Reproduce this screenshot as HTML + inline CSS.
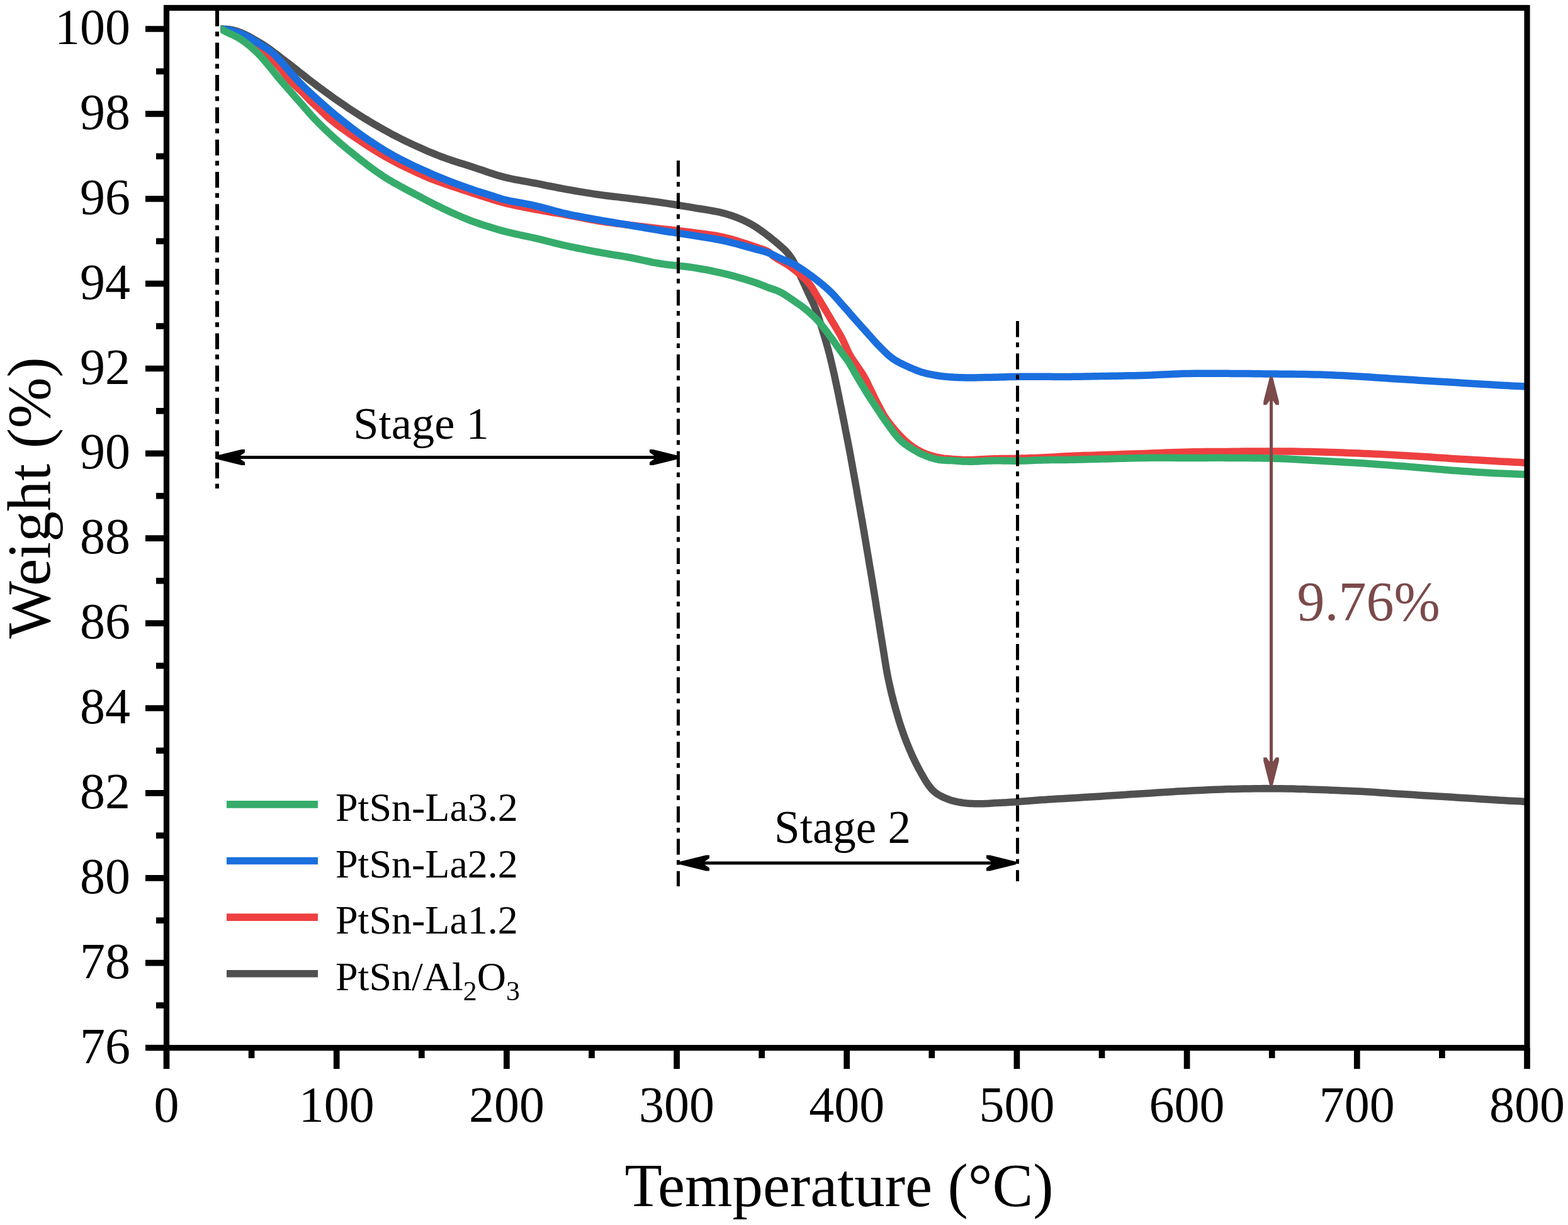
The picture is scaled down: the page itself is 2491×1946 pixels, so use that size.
<!DOCTYPE html>
<html><head><meta charset="utf-8"><title>TGA curves</title>
<style>html,body{margin:0;padding:0;background:#fff;}svg{display:block;}</style>
</head><body>
<svg width="2491" height="1946" viewBox="0 0 2491 1946">
<rect width="2491" height="1946" fill="#fff"/>
<defs><clipPath id="pc"><rect x="350.5" y="0" width="2075.5" height="1946"/></clipPath></defs>
<path d="M343.9 45.7 L344.7 45.7 L345.5 45.8 L346.3 45.8 L347.1 45.8 L347.9 45.9 L348.7 45.9 L349.6 46.0 L350.5 46.0 L351.7 46.0 L353.1 46.1 L354.4 46.1 L355.8 46.2 L357.3 46.2 L358.7 46.3 L360.1 46.4 L361.5 46.5 L362.9 46.7 L364.2 46.8 L365.5 47.0 L366.9 47.2 L368.2 47.4 L369.6 47.7 L371.0 48.0 L372.5 48.4 L374.4 49.0 L376.4 49.6 L378.5 50.3 L380.6 51.1 L382.7 51.9 L384.8 52.8 L386.9 53.7 L389.0 54.6 L391.1 55.6 L393.1 56.6 L395.2 57.7 L397.2 58.9 L399.3 60.0 L401.3 61.2 L403.4 62.4 L405.4 63.6 L407.5 64.8 L409.5 66.0 L411.5 67.1 L413.5 68.3 L415.6 69.6 L417.7 70.8 L419.8 72.2 L421.9 73.6 L424.5 75.4 L427.2 77.3 L430.0 79.3 L432.8 81.4 L435.6 83.5 L438.4 85.6 L441.2 87.7 L443.9 89.8 L446.5 91.8 L449.1 93.8 L451.7 95.7 L454.3 97.7 L456.8 99.7 L459.5 101.7 L462.2 103.8 L465.0 106.0 L468.5 108.8 L472.1 111.6 L475.8 114.6 L479.6 117.6 L483.5 120.6 L487.4 123.7 L491.4 126.9 L495.5 130.0 L500.3 133.6 L505.2 137.3 L510.3 141.1 L515.4 144.9 L520.6 148.7 L525.9 152.5 L531.2 156.3 L536.5 160.0 L542.0 163.8 L547.6 167.6 L553.2 171.4 L558.9 175.2 L564.6 178.9 L570.4 182.6 L576.3 186.3 L582.3 190.0 L588.7 193.9 L595.2 197.7 L601.8 201.5 L608.4 205.3 L615.2 209.1 L622.0 212.8 L629.0 216.4 L636.0 220.0 L643.7 223.8 L651.7 227.6 L659.8 231.4 L668.0 235.1 L676.2 238.7 L684.3 242.2 L692.3 245.4 L700.0 248.5 L706.5 250.9 L712.9 253.2 L719.1 255.3 L725.3 257.3 L731.5 259.2 L737.6 261.1 L743.8 263.0 L750.0 265.0 L756.2 267.1 L762.5 269.2 L768.7 271.3 L774.9 273.5 L781.2 275.5 L787.4 277.5 L793.7 279.4 L800.0 281.1 L806.2 282.6 L812.4 284.0 L818.7 285.3 L825.0 286.4 L831.2 287.6 L837.5 288.7 L843.7 289.8 L850.0 291.0 L856.2 292.2 L862.5 293.5 L868.7 294.8 L875.0 296.0 L881.2 297.2 L887.5 298.5 L893.7 299.7 L900.0 300.8 L906.2 301.9 L912.5 303.0 L918.7 304.1 L925.0 305.1 L931.2 306.1 L937.5 307.1 L943.7 308.1 L950.0 309.0 L956.2 309.9 L962.5 310.7 L968.7 311.5 L975.0 312.2 L981.2 312.9 L987.5 313.7 L993.7 314.4 L1000.0 315.2 L1006.3 316.0 L1012.5 316.8 L1018.8 317.6 L1025.0 318.3 L1031.3 319.1 L1037.5 320.0 L1043.8 320.8 L1050.0 321.7 L1056.3 322.6 L1062.5 323.6 L1068.8 324.5 L1075.0 325.5 L1081.3 326.6 L1087.5 327.6 L1093.8 328.6 L1100.0 329.7 L1106.3 330.8 L1112.8 331.8 L1119.4 332.8 L1125.9 333.9 L1132.2 335.0 L1138.5 336.2 L1144.4 337.4 L1150.0 338.8 L1154.2 340.0 L1158.3 341.2 L1162.2 342.5 L1166.0 343.8 L1169.6 345.2 L1173.2 346.6 L1176.6 348.0 L1180.0 349.5 L1182.7 350.7 L1185.4 352.0 L1187.9 353.3 L1190.4 354.6 L1192.8 355.9 L1195.2 357.3 L1197.6 358.7 L1200.0 360.2 L1202.5 361.8 L1205.0 363.5 L1207.5 365.2 L1210.0 367.0 L1212.5 368.8 L1215.0 370.7 L1217.4 372.5 L1219.9 374.4 L1222.5 376.4 L1225.1 378.5 L1227.7 380.6 L1230.3 382.7 L1232.9 384.9 L1235.3 386.9 L1237.7 388.9 L1239.8 390.8 L1241.2 392.1 L1242.6 393.3 L1243.9 394.4 L1245.1 395.5 L1246.3 396.6 L1247.5 397.8 L1248.6 399.0 L1249.8 400.3 L1251.1 401.8 L1252.4 403.4 L1253.7 405.0 L1254.9 406.7 L1256.2 408.4 L1257.4 410.2 L1258.6 412.0 L1259.8 414.0 L1261.3 416.6 L1262.8 419.4 L1264.2 422.4 L1265.7 425.5 L1267.1 428.5 L1268.5 431.5 L1269.8 434.4 L1271.0 437.0 L1271.8 438.8 L1272.6 440.4 L1273.3 442.0 L1274.1 443.6 L1274.8 445.1 L1275.5 446.6 L1276.2 448.3 L1277.0 450.0 L1278.1 452.3 L1279.2 454.7 L1280.3 457.3 L1281.5 459.8 L1282.7 462.4 L1283.8 464.9 L1284.9 467.3 L1286.0 469.6 L1286.8 471.3 L1287.6 472.9 L1288.3 474.4 L1289.1 475.9 L1289.8 477.4 L1290.6 478.9 L1291.3 480.4 L1292.0 482.0 L1292.8 483.8 L1293.5 485.6 L1294.3 487.4 L1295.0 489.2 L1295.8 491.1 L1296.5 493.0 L1297.3 495.0 L1298.0 497.0 L1298.9 499.5 L1299.7 502.1 L1300.6 504.7 L1301.5 507.5 L1302.3 510.2 L1303.2 513.1 L1304.1 516.0 L1305.0 519.0 L1306.1 522.7 L1307.3 526.6 L1308.6 530.7 L1309.8 534.8 L1311.0 538.9 L1312.2 543.0 L1313.4 547.1 L1314.5 551.0 L1315.5 554.5 L1316.4 558.0 L1317.3 561.4 L1318.2 564.8 L1319.0 568.2 L1319.8 571.6 L1320.7 575.1 L1321.5 578.5 L1322.3 582.0 L1323.1 585.5 L1323.9 589.0 L1324.7 592.5 L1325.5 596.0 L1326.3 599.6 L1327.0 603.1 L1327.8 606.6 L1328.5 610.1 L1329.3 613.6 L1330.0 617.1 L1330.7 620.6 L1331.5 624.2 L1332.2 627.7 L1332.9 631.2 L1333.6 634.7 L1334.3 638.2 L1335.0 641.7 L1335.8 645.2 L1336.5 648.7 L1337.2 652.3 L1337.9 655.8 L1338.6 659.3 L1339.3 662.8 L1340.0 666.3 L1340.7 669.8 L1341.4 673.4 L1342.1 676.9 L1342.7 680.4 L1343.4 683.9 L1344.1 687.5 L1344.8 691.0 L1345.5 694.6 L1346.2 698.1 L1346.9 701.6 L1347.6 705.2 L1348.3 708.8 L1349.0 712.4 L1349.7 716.2 L1350.4 720.0 L1351.3 724.6 L1352.1 729.4 L1353.0 734.3 L1353.9 739.3 L1354.8 744.3 L1355.7 749.3 L1356.6 754.3 L1357.5 759.3 L1358.4 764.3 L1359.3 769.3 L1360.2 774.2 L1361.1 779.2 L1361.9 784.2 L1362.8 789.2 L1363.7 794.2 L1364.6 799.2 L1365.5 804.2 L1366.4 809.1 L1367.2 814.1 L1368.1 819.1 L1369.0 824.0 L1369.9 829.0 L1370.7 834.0 L1371.6 839.0 L1372.5 844.1 L1373.3 849.1 L1374.2 854.2 L1375.0 859.2 L1375.9 864.3 L1376.7 869.5 L1377.6 874.7 L1378.5 880.0 L1379.5 885.9 L1380.5 892.0 L1381.5 898.1 L1382.6 904.3 L1383.6 910.5 L1384.7 916.8 L1385.7 923.0 L1386.7 929.2 L1387.7 935.4 L1388.7 941.5 L1389.7 947.7 L1390.7 953.8 L1391.7 960.0 L1392.6 966.2 L1393.6 972.3 L1394.6 978.5 L1395.6 984.7 L1396.6 990.8 L1397.5 997.0 L1398.5 1003.1 L1399.5 1009.3 L1400.5 1015.4 L1401.5 1021.6 L1402.5 1027.7 L1403.5 1033.9 L1404.5 1040.0 L1405.4 1046.2 L1406.4 1052.3 L1407.4 1058.5 L1408.5 1064.6 L1409.6 1070.8 L1410.8 1076.9 L1412.1 1083.1 L1413.5 1089.3 L1414.9 1095.4 L1416.3 1101.6 L1417.9 1107.8 L1419.4 1113.9 L1421.1 1120.1 L1422.8 1126.2 L1424.6 1132.4 L1426.4 1138.6 L1428.2 1144.7 L1430.2 1150.9 L1432.2 1157.1 L1434.3 1163.2 L1436.5 1169.3 L1438.8 1175.4 L1441.3 1181.7 L1443.9 1188.1 L1446.7 1194.5 L1449.5 1200.8 L1452.4 1207.1 L1455.4 1213.2 L1458.4 1219.0 L1461.4 1224.6 L1463.9 1229.1 L1466.5 1233.6 L1469.0 1238.0 L1471.6 1242.2 L1474.3 1246.3 L1477.1 1250.0 L1480.0 1253.5 L1483.1 1256.6 L1485.9 1259.0 L1488.8 1261.1 L1491.9 1263.0 L1495.0 1264.7 L1498.1 1266.2 L1501.3 1267.7 L1504.5 1269.0 L1507.7 1270.2 L1510.7 1271.3 L1513.8 1272.2 L1516.8 1272.9 L1519.9 1273.6 L1523.0 1274.2 L1526.1 1274.7 L1529.2 1275.2 L1532.3 1275.6 L1535.4 1276.0 L1538.4 1276.2 L1541.5 1276.5 L1544.6 1276.6 L1547.7 1276.7 L1550.7 1276.8 L1553.8 1276.8 L1556.9 1276.8 L1560.0 1276.8 L1563.0 1276.7 L1566.1 1276.5 L1569.2 1276.4 L1572.3 1276.2 L1575.3 1276.0 L1578.4 1275.8 L1581.5 1275.6 L1584.5 1275.4 L1587.5 1275.3 L1590.4 1275.2 L1593.3 1275.0 L1596.3 1274.9 L1599.4 1274.7 L1602.7 1274.5 L1606.2 1274.3 L1611.7 1273.9 L1617.7 1273.5 L1624.2 1273.0 L1630.8 1272.5 L1637.4 1271.9 L1643.9 1271.4 L1649.9 1271.0 L1655.4 1270.6 L1658.8 1270.4 L1661.8 1270.2 L1664.7 1270.0 L1667.4 1269.8 L1670.2 1269.7 L1673.2 1269.5 L1676.4 1269.3 L1680.0 1269.1 L1687.0 1268.7 L1694.9 1268.2 L1703.5 1267.7 L1712.6 1267.2 L1721.9 1266.6 L1731.4 1266.0 L1740.7 1265.5 L1749.6 1264.9 L1758.3 1264.3 L1767.0 1263.8 L1775.7 1263.2 L1784.4 1262.7 L1793.1 1262.1 L1801.8 1261.5 L1810.5 1261.0 L1819.2 1260.4 L1827.9 1259.9 L1836.6 1259.3 L1845.3 1258.7 L1854.0 1258.2 L1862.7 1257.7 L1871.4 1257.1 L1880.1 1256.7 L1888.8 1256.2 L1897.5 1255.8 L1906.2 1255.4 L1914.9 1255.0 L1923.6 1254.6 L1932.3 1254.2 L1941.0 1253.9 L1949.7 1253.6 L1958.4 1253.4 L1967.1 1253.2 L1975.8 1253.0 L1984.5 1252.9 L1993.2 1252.8 L2001.9 1252.7 L2010.6 1252.6 L2019.3 1252.7 L2028.0 1252.7 L2036.7 1252.8 L2045.4 1252.9 L2054.1 1253.1 L2062.8 1253.4 L2071.4 1253.6 L2080.1 1253.9 L2088.8 1254.2 L2097.5 1254.5 L2106.2 1254.8 L2114.9 1255.2 L2123.6 1255.5 L2132.3 1255.9 L2141.0 1256.3 L2149.7 1256.7 L2158.4 1257.1 L2167.1 1257.6 L2175.8 1258.1 L2184.5 1258.6 L2193.2 1259.2 L2201.9 1259.8 L2210.6 1260.4 L2219.3 1261.0 L2228.0 1261.5 L2236.7 1262.1 L2245.4 1262.6 L2254.1 1263.2 L2262.8 1263.7 L2271.5 1264.2 L2280.2 1264.7 L2288.9 1265.2 L2297.6 1265.8 L2306.3 1266.3 L2315.1 1266.9 L2324.0 1267.4 L2332.9 1268.0 L2341.8 1268.6 L2350.6 1269.2 L2359.3 1269.8 L2367.7 1270.3 L2375.9 1270.8 L2382.6 1271.2 L2389.0 1271.5 L2395.3 1271.9 L2401.5 1272.2 L2407.6 1272.5 L2413.7 1272.8 L2419.8 1273.2 L2426.0 1273.5" fill="none" stroke="#505050" stroke-width="11.5" stroke-linejoin="round" stroke-linecap="butt" clip-path="url(#pc)"/>
<path d="M338.8 43.0 L340.2 43.4 L341.7 43.7 L343.1 44.1 L344.5 44.5 L345.9 44.8 L347.4 45.2 L348.9 45.6 L350.5 46.0 L352.7 46.5 L355.0 47.1 L357.5 47.6 L360.0 48.2 L362.5 48.8 L365.0 49.5 L367.5 50.2 L370.0 51.0 L372.5 51.9 L375.0 52.9 L377.6 53.9 L380.1 55.0 L382.6 56.2 L385.1 57.4 L387.6 58.6 L390.0 60.0 L392.6 61.5 L395.1 63.1 L397.6 64.8 L400.1 66.5 L402.6 68.3 L405.1 70.2 L407.6 72.1 L410.0 74.0 L412.6 76.1 L415.2 78.3 L417.7 80.5 L420.3 82.8 L422.8 85.1 L425.3 87.4 L427.7 89.7 L430.0 92.0 L432.0 94.0 L434.0 96.0 L435.9 97.9 L437.8 99.9 L439.6 101.9 L441.4 103.9 L443.2 105.9 L445.0 108.0 L446.8 110.2 L448.5 112.4 L450.1 114.6 L451.8 116.8 L453.4 119.1 L455.2 121.4 L457.0 123.7 L459.0 126.0 L461.7 128.9 L464.7 131.9 L467.9 135.0 L471.1 138.1 L474.4 141.2 L477.5 144.1 L480.4 146.9 L483.0 149.5 L484.6 151.1 L486.1 152.7 L487.4 154.1 L488.8 155.6 L490.0 156.9 L491.3 158.3 L492.6 159.6 L494.0 161.0 L495.3 162.3 L496.6 163.5 L498.0 164.7 L499.3 165.9 L500.6 167.1 L502.0 168.3 L503.5 169.6 L505.0 171.0 L507.2 173.1 L509.4 175.3 L511.8 177.6 L514.2 179.9 L516.7 182.4 L519.4 184.9 L522.2 187.5 L525.2 190.0 L529.6 193.5 L534.3 197.2 L539.3 201.0 L544.6 204.8 L550.0 208.6 L555.5 212.5 L561.0 216.3 L566.5 220.0 L572.2 223.8 L577.9 227.7 L583.7 231.5 L589.5 235.3 L595.4 239.0 L601.5 242.7 L607.7 246.4 L614.0 250.0 L621.4 254.0 L629.2 258.1 L637.3 262.3 L645.6 266.3 L653.6 270.2 L661.4 273.8 L668.6 277.1 L675.0 280.0 L678.6 281.5 L681.8 282.9 L684.7 284.1 L687.6 285.2 L690.4 286.2 L693.4 287.3 L696.5 288.4 L700.0 289.7 L705.4 291.6 L711.3 293.7 L717.5 295.8 L723.9 297.9 L730.5 300.1 L737.1 302.3 L743.6 304.4 L750.0 306.5 L756.2 308.5 L762.5 310.6 L768.7 312.6 L774.9 314.6 L781.2 316.6 L787.5 318.5 L793.7 320.3 L800.0 322.0 L806.2 323.6 L812.5 325.0 L818.7 326.4 L825.0 327.7 L831.2 328.9 L837.5 330.1 L843.7 331.3 L850.0 332.5 L856.2 333.7 L862.5 334.8 L868.7 335.9 L875.0 337.0 L881.2 338.0 L887.5 339.1 L893.8 340.2 L900.0 341.3 L906.3 342.5 L912.5 343.7 L918.7 344.9 L925.0 346.2 L931.2 347.4 L937.5 348.6 L943.7 349.7 L950.0 350.8 L956.2 351.8 L962.5 352.7 L968.7 353.5 L975.0 354.4 L981.2 355.2 L987.5 355.9 L993.7 356.7 L1000.0 357.5 L1006.2 358.3 L1012.5 359.0 L1018.7 359.8 L1025.0 360.5 L1031.2 361.2 L1037.5 361.9 L1043.7 362.7 L1050.0 363.4 L1056.3 364.1 L1062.5 364.8 L1068.8 365.5 L1075.0 366.2 L1081.3 367.0 L1087.5 367.7 L1093.8 368.5 L1100.0 369.3 L1106.3 370.1 L1112.5 370.9 L1118.8 371.7 L1125.1 372.6 L1131.3 373.5 L1137.6 374.5 L1143.8 375.7 L1150.0 377.0 L1156.4 378.6 L1163.1 380.4 L1169.8 382.3 L1176.5 384.4 L1183.0 386.5 L1189.1 388.5 L1194.9 390.5 L1200.0 392.2 L1203.0 393.2 L1205.8 394.1 L1208.5 395.0 L1211.0 395.8 L1213.4 396.6 L1215.7 397.5 L1217.9 398.5 L1219.9 399.6 L1221.4 400.5 L1222.6 401.5 L1223.8 402.5 L1224.9 403.5 L1226.1 404.6 L1227.2 405.7 L1228.5 406.7 L1229.9 407.8 L1232.1 409.2 L1234.4 410.7 L1237.0 412.2 L1239.6 413.7 L1242.3 415.2 L1244.9 416.7 L1247.4 418.2 L1249.8 419.7 L1251.8 421.0 L1253.7 422.3 L1255.5 423.6 L1257.3 424.9 L1259.1 426.3 L1260.9 427.7 L1262.8 429.1 L1264.7 430.7 L1267.1 432.8 L1269.7 434.9 L1272.3 437.2 L1275.0 439.6 L1277.6 442.0 L1280.1 444.5 L1282.5 447.1 L1284.7 449.6 L1286.6 452.0 L1288.3 454.4 L1290.0 456.9 L1291.5 459.4 L1293.1 462.0 L1294.6 464.5 L1296.1 467.1 L1297.6 469.6 L1299.1 472.1 L1300.6 474.5 L1302.1 477.0 L1303.6 479.5 L1305.1 482.0 L1306.6 484.5 L1308.1 487.0 L1309.6 489.5 L1311.2 492.1 L1312.7 494.8 L1314.3 497.4 L1315.9 500.1 L1317.5 502.8 L1319.1 505.5 L1320.7 508.2 L1322.3 511.0 L1324.1 514.0 L1326.0 517.1 L1327.8 520.2 L1329.7 523.4 L1331.6 526.6 L1333.5 529.8 L1335.3 533.0 L1337.1 536.3 L1338.8 539.7 L1340.5 543.2 L1342.0 546.6 L1343.6 550.2 L1345.2 553.7 L1346.8 557.3 L1348.6 560.8 L1350.5 564.4 L1352.9 568.5 L1355.6 572.6 L1358.5 576.8 L1361.4 581.0 L1364.3 585.2 L1367.2 589.3 L1369.8 593.3 L1372.2 597.2 L1373.9 600.3 L1375.5 603.3 L1377.0 606.2 L1378.4 609.1 L1379.8 612.0 L1381.2 614.9 L1382.6 617.8 L1384.0 620.7 L1385.5 623.6 L1386.9 626.6 L1388.3 629.5 L1389.7 632.4 L1391.2 635.4 L1392.6 638.3 L1394.2 641.2 L1395.7 644.1 L1397.3 647.0 L1398.8 649.9 L1400.4 652.8 L1402.0 655.7 L1403.6 658.6 L1405.4 661.6 L1407.4 664.5 L1409.5 667.6 L1412.6 671.8 L1416.1 676.3 L1419.9 680.9 L1423.8 685.5 L1427.9 690.0 L1432.0 694.4 L1436.1 698.4 L1440.0 702.0 L1443.1 704.6 L1446.2 707.0 L1449.3 709.3 L1452.4 711.4 L1455.5 713.4 L1458.6 715.2 L1461.8 716.9 L1465.0 718.5 L1468.0 719.9 L1471.1 721.1 L1474.2 722.2 L1477.4 723.3 L1480.5 724.2 L1483.7 725.0 L1486.8 725.8 L1490.0 726.5 L1493.1 727.1 L1496.2 727.6 L1499.3 728.1 L1502.5 728.4 L1505.6 728.7 L1508.7 729.0 L1511.9 729.3 L1515.0 729.5 L1518.1 729.7 L1521.1 729.9 L1524.1 730.1 L1527.1 730.3 L1530.2 730.4 L1533.4 730.4 L1536.6 730.5 L1540.0 730.5 L1544.5 730.4 L1549.1 730.3 L1554.0 730.1 L1558.9 729.8 L1564.0 729.5 L1569.0 729.2 L1574.0 729.0 L1579.0 728.8 L1584.0 728.7 L1588.9 728.6 L1593.9 728.5 L1598.9 728.5 L1603.9 728.4 L1608.9 728.4 L1613.9 728.3 L1618.9 728.2 L1623.9 728.1 L1628.8 727.9 L1633.8 727.8 L1638.8 727.6 L1643.7 727.4 L1648.7 727.2 L1653.7 727.0 L1658.7 726.8 L1663.8 726.5 L1668.9 726.3 L1674.0 726.0 L1679.1 725.7 L1684.2 725.3 L1689.4 725.0 L1694.7 724.8 L1700.0 724.5 L1705.9 724.2 L1711.9 724.0 L1717.9 723.8 L1724.0 723.6 L1730.2 723.4 L1736.5 723.2 L1743.0 723.0 L1749.6 722.8 L1757.7 722.5 L1766.2 722.2 L1774.8 721.9 L1783.7 721.6 L1792.6 721.3 L1801.5 721.0 L1810.4 720.7 L1819.2 720.4 L1827.9 720.1 L1836.6 719.8 L1845.3 719.4 L1854.0 719.1 L1862.7 718.8 L1871.4 718.5 L1880.1 718.2 L1888.8 718.0 L1897.5 717.8 L1906.2 717.7 L1914.9 717.6 L1923.6 717.5 L1932.3 717.5 L1941.0 717.4 L1949.7 717.4 L1958.4 717.3 L1967.1 717.2 L1975.8 717.1 L1984.5 717.1 L1993.2 717.0 L2001.9 716.9 L2010.6 716.9 L2019.3 716.9 L2028.0 716.9 L2036.7 717.0 L2045.4 717.0 L2054.1 717.1 L2062.8 717.3 L2071.4 717.4 L2080.1 717.6 L2088.8 717.8 L2097.5 718.0 L2106.2 718.2 L2114.9 718.5 L2123.6 718.8 L2132.3 719.1 L2141.0 719.4 L2149.7 719.7 L2158.4 720.0 L2167.1 720.4 L2175.8 720.8 L2184.5 721.2 L2193.2 721.6 L2201.9 722.0 L2210.6 722.5 L2219.3 722.9 L2228.0 723.4 L2236.7 723.9 L2245.4 724.4 L2254.1 725.0 L2262.8 725.5 L2271.5 726.1 L2280.2 726.7 L2288.9 727.3 L2297.6 727.8 L2306.3 728.4 L2315.1 728.9 L2324.0 729.5 L2332.9 730.1 L2341.8 730.6 L2350.6 731.1 L2359.3 731.6 L2367.7 732.1 L2375.9 732.6 L2382.6 733.0 L2389.0 733.3 L2395.3 733.6 L2401.5 734.0 L2407.6 734.3 L2413.7 734.6 L2419.8 734.9 L2426.0 735.2" fill="none" stroke="#ee4040" stroke-width="11.5" stroke-linejoin="round" stroke-linecap="butt" clip-path="url(#pc)"/>
<path d="M340.6 44.6 L341.8 44.7 L343.0 44.9 L344.2 45.1 L345.4 45.3 L346.6 45.4 L347.8 45.6 L349.1 45.8 L350.5 46.0 L352.3 46.2 L354.3 46.5 L356.3 46.7 L358.4 46.9 L360.5 47.2 L362.6 47.5 L364.8 47.9 L367.0 48.4 L369.6 49.1 L372.3 49.9 L375.1 50.8 L377.9 51.7 L380.7 52.8 L383.5 53.9 L386.3 55.1 L389.0 56.3 L391.8 57.7 L394.6 59.1 L397.3 60.6 L400.0 62.2 L402.8 63.9 L405.5 65.6 L408.2 67.3 L410.9 69.0 L413.7 70.7 L416.4 72.4 L419.1 74.1 L421.8 75.8 L424.5 77.7 L427.3 79.6 L430.1 81.7 L432.9 84.1 L436.9 87.8 L441.1 92.1 L445.5 96.8 L449.9 101.7 L454.2 106.6 L458.2 111.3 L461.8 115.5 L465.0 119.0 L466.5 120.6 L467.7 122.1 L468.9 123.4 L469.9 124.6 L471.0 125.8 L472.1 127.1 L473.4 128.4 L474.9 130.0 L478.0 133.1 L481.5 136.5 L485.3 140.3 L489.4 144.2 L493.7 148.2 L498.1 152.2 L502.4 156.2 L506.6 160.0 L510.9 163.8 L515.1 167.6 L519.5 171.4 L523.8 175.1 L528.3 178.9 L532.7 182.6 L537.2 186.3 L541.8 190.0 L546.6 193.8 L551.4 197.6 L556.3 201.4 L561.2 205.2 L566.3 208.9 L571.3 212.7 L576.5 216.3 L581.8 220.0 L587.5 223.9 L593.4 227.7 L599.3 231.5 L605.3 235.3 L611.4 239.1 L617.7 242.8 L624.1 246.4 L630.6 250.0 L638.1 254.0 L646.0 257.9 L654.1 261.9 L662.3 265.7 L670.5 269.5 L678.7 273.1 L686.8 276.7 L694.6 280.0 L701.5 282.9 L708.4 285.6 L715.2 288.3 L722.0 290.9 L728.6 293.4 L735.1 295.7 L741.3 297.9 L747.2 300.0 L751.5 301.5 L755.7 302.9 L759.8 304.2 L763.8 305.4 L767.6 306.6 L771.4 307.7 L775.0 308.9 L778.6 310.0 L781.4 310.9 L784.0 311.8 L786.5 312.7 L789.0 313.5 L791.5 314.3 L794.1 315.1 L796.9 316.0 L800.0 316.8 L805.2 318.0 L811.0 319.3 L817.2 320.4 L823.7 321.6 L830.3 322.9 L837.0 324.1 L843.6 325.4 L850.0 326.8 L856.3 328.3 L862.5 329.9 L868.8 331.6 L875.0 333.3 L881.2 335.0 L887.5 336.6 L893.7 338.2 L900.0 339.7 L906.2 341.1 L912.5 342.3 L918.7 343.5 L925.0 344.7 L931.2 345.9 L937.5 347.0 L943.7 348.1 L950.0 349.2 L956.2 350.3 L962.5 351.4 L968.7 352.5 L975.0 353.5 L981.2 354.6 L987.5 355.6 L993.7 356.6 L1000.0 357.7 L1006.2 358.8 L1012.5 359.8 L1018.7 360.9 L1025.0 362.0 L1031.2 363.1 L1037.5 364.1 L1043.7 365.2 L1050.0 366.2 L1056.2 367.2 L1062.5 368.2 L1068.7 369.1 L1075.0 370.0 L1081.3 371.0 L1087.5 371.9 L1093.8 372.9 L1100.0 373.9 L1106.3 374.9 L1112.5 375.9 L1118.8 376.9 L1125.0 377.9 L1131.3 378.9 L1137.5 380.0 L1143.8 381.2 L1150.0 382.5 L1156.4 384.0 L1163.1 385.6 L1169.8 387.3 L1176.4 389.1 L1182.9 390.9 L1189.1 392.6 L1194.8 394.2 L1200.0 395.6 L1202.9 396.4 L1205.6 397.1 L1208.2 397.7 L1210.6 398.4 L1212.9 399.0 L1215.2 399.7 L1217.5 400.4 L1219.9 401.3 L1222.4 402.3 L1224.9 403.4 L1227.3 404.5 L1229.8 405.7 L1232.2 406.9 L1234.7 408.2 L1237.1 409.4 L1239.6 410.5 L1242.1 411.6 L1244.6 412.6 L1247.2 413.7 L1249.7 414.7 L1252.3 415.7 L1254.8 416.8 L1257.3 418.0 L1259.8 419.2 L1262.3 420.6 L1264.8 422.0 L1267.3 423.5 L1269.7 425.1 L1272.2 426.7 L1274.6 428.3 L1277.1 429.9 L1279.5 431.6 L1282.0 433.3 L1284.5 435.1 L1287.0 436.9 L1289.5 438.7 L1292.0 440.6 L1294.5 442.4 L1296.9 444.4 L1299.4 446.3 L1301.9 448.3 L1304.5 450.4 L1307.0 452.4 L1309.5 454.6 L1312.0 456.7 L1314.5 458.9 L1317.0 461.2 L1319.4 463.5 L1322.0 466.1 L1324.5 468.7 L1327.0 471.4 L1329.4 474.2 L1331.9 477.0 L1334.4 479.9 L1336.8 482.7 L1339.3 485.5 L1341.8 488.3 L1344.4 491.2 L1346.9 494.1 L1349.4 497.0 L1351.9 499.9 L1354.5 502.8 L1357.0 505.7 L1359.5 508.5 L1361.9 511.2 L1364.4 514.0 L1366.8 516.7 L1369.2 519.4 L1371.6 522.1 L1374.0 524.8 L1376.5 527.5 L1378.9 530.2 L1381.4 533.0 L1383.8 535.7 L1386.3 538.6 L1388.8 541.3 L1391.3 544.1 L1393.8 546.8 L1396.4 549.5 L1398.9 552.1 L1401.3 554.5 L1403.8 556.9 L1406.2 559.3 L1408.6 561.6 L1411.1 563.9 L1413.6 566.0 L1416.2 568.1 L1418.8 570.0 L1421.3 571.7 L1423.9 573.3 L1426.5 574.8 L1429.1 576.2 L1431.8 577.5 L1434.5 578.8 L1437.2 580.1 L1440.0 581.4 L1443.0 582.8 L1446.0 584.2 L1449.2 585.5 L1452.3 586.8 L1455.5 588.1 L1458.6 589.3 L1461.8 590.4 L1465.0 591.4 L1468.1 592.3 L1471.2 593.1 L1474.3 593.8 L1477.4 594.5 L1480.6 595.1 L1483.7 595.7 L1486.9 596.2 L1490.0 596.7 L1493.1 597.2 L1496.2 597.6 L1499.4 598.0 L1502.5 598.3 L1505.6 598.6 L1508.7 598.9 L1511.9 599.1 L1515.0 599.3 L1518.1 599.5 L1521.1 599.6 L1524.1 599.7 L1527.1 599.8 L1530.2 599.8 L1533.4 599.9 L1536.6 599.9 L1540.0 599.9 L1544.5 599.9 L1549.1 599.9 L1554.0 599.8 L1558.9 599.7 L1564.0 599.6 L1569.0 599.5 L1574.0 599.4 L1579.0 599.3 L1584.0 599.2 L1588.9 599.1 L1593.9 598.9 L1598.9 598.8 L1603.9 598.6 L1608.9 598.5 L1613.9 598.4 L1618.9 598.3 L1623.9 598.3 L1628.8 598.2 L1633.8 598.2 L1638.8 598.2 L1643.7 598.2 L1648.7 598.3 L1653.7 598.3 L1658.7 598.3 L1663.8 598.3 L1668.9 598.3 L1674.0 598.4 L1679.1 598.4 L1684.2 598.4 L1689.4 598.4 L1694.7 598.4 L1700.0 598.4 L1705.9 598.3 L1711.9 598.3 L1717.9 598.2 L1724.0 598.1 L1730.2 598.0 L1736.5 597.8 L1743.0 597.7 L1749.6 597.6 L1757.7 597.5 L1766.2 597.3 L1774.8 597.2 L1783.7 597.0 L1792.6 596.8 L1801.5 596.7 L1810.4 596.4 L1819.2 596.2 L1827.9 595.9 L1836.6 595.5 L1845.3 595.1 L1854.0 594.7 L1862.7 594.3 L1871.4 593.9 L1880.1 593.6 L1888.8 593.4 L1897.5 593.3 L1906.2 593.2 L1914.9 593.2 L1923.6 593.2 L1932.3 593.2 L1941.0 593.3 L1949.7 593.3 L1958.4 593.4 L1967.1 593.5 L1975.8 593.5 L1984.5 593.6 L1993.2 593.7 L2001.9 593.8 L2010.6 593.9 L2019.3 594.0 L2028.0 594.1 L2036.7 594.2 L2045.4 594.3 L2054.1 594.3 L2062.8 594.4 L2071.4 594.5 L2080.1 594.7 L2088.8 594.9 L2097.5 595.1 L2106.2 595.4 L2114.9 595.8 L2123.6 596.2 L2132.3 596.6 L2141.0 597.1 L2149.7 597.6 L2158.4 598.1 L2167.1 598.6 L2175.8 599.1 L2184.5 599.7 L2193.2 600.2 L2201.9 600.8 L2210.6 601.4 L2219.3 602.0 L2228.0 602.5 L2236.7 603.1 L2245.4 603.6 L2254.1 604.2 L2262.8 604.7 L2271.5 605.2 L2280.2 605.7 L2288.9 606.3 L2297.6 606.8 L2306.3 607.3 L2315.1 607.8 L2324.0 608.4 L2332.9 608.9 L2341.8 609.5 L2350.6 610.0 L2359.3 610.5 L2367.7 611.0 L2375.9 611.5 L2382.6 611.9 L2389.0 612.2 L2395.3 612.5 L2401.5 612.9 L2407.6 613.2 L2413.7 613.5 L2419.8 613.8 L2426.0 614.1" fill="none" stroke="#1a6ede" stroke-width="11.5" stroke-linejoin="round" stroke-linecap="butt" clip-path="url(#pc)"/>
<path d="M343.9 42.6 L344.7 43.0 L345.5 43.4 L346.3 43.8 L347.1 44.2 L347.9 44.7 L348.7 45.1 L349.6 45.5 L350.5 46.0 L351.7 46.6 L353.0 47.3 L354.3 48.0 L355.7 48.7 L357.1 49.4 L358.5 50.2 L360.0 50.9 L361.5 51.7 L363.4 52.6 L365.4 53.5 L367.5 54.4 L369.6 55.4 L371.7 56.4 L373.8 57.4 L376.0 58.5 L378.0 59.6 L380.1 60.9 L382.2 62.2 L384.3 63.6 L386.4 65.0 L388.4 66.5 L390.5 68.0 L392.5 69.6 L394.5 71.2 L396.6 72.9 L398.7 74.7 L400.8 76.5 L402.9 78.4 L405.0 80.3 L407.0 82.2 L409.0 84.1 L410.9 86.0 L412.5 87.7 L414.1 89.3 L415.6 91.0 L417.0 92.6 L418.5 94.3 L420.0 96.1 L421.6 98.0 L423.3 100.0 L426.0 103.2 L428.9 106.7 L431.9 110.4 L435.1 114.3 L438.3 118.3 L441.5 122.3 L444.8 126.2 L448.0 130.0 L451.2 133.8 L454.5 137.5 L457.8 141.3 L461.1 145.0 L464.4 148.8 L467.7 152.5 L471.0 156.3 L474.3 160.0 L477.6 163.8 L480.9 167.5 L484.1 171.3 L487.4 175.1 L490.7 178.8 L494.0 182.6 L497.4 186.3 L500.9 190.0 L504.6 193.8 L508.3 197.6 L512.2 201.4 L516.0 205.1 L519.9 208.9 L523.9 212.6 L527.9 216.3 L532.0 220.0 L536.3 223.8 L540.7 227.6 L545.1 231.4 L549.6 235.1 L554.2 238.9 L558.8 242.6 L563.4 246.3 L568.1 250.0 L573.0 253.9 L578.1 257.8 L583.2 261.7 L588.4 265.6 L593.5 269.4 L598.7 273.1 L603.8 276.6 L608.8 280.0 L613.3 282.9 L617.8 285.6 L622.4 288.3 L626.9 290.9 L631.3 293.3 L635.6 295.7 L639.7 297.9 L643.5 300.0 L646.1 301.4 L648.6 302.8 L651.0 304.0 L653.4 305.2 L655.6 306.4 L657.9 307.6 L660.2 308.8 L662.5 310.0 L664.8 311.3 L667.2 312.5 L669.5 313.8 L671.8 315.0 L674.1 316.3 L676.4 317.5 L678.8 318.8 L681.1 320.0 L683.5 321.2 L685.9 322.4 L688.3 323.7 L690.8 324.9 L693.2 326.1 L695.5 327.2 L697.8 328.3 L700.0 329.4 L701.7 330.2 L703.2 331.0 L704.7 331.7 L706.1 332.4 L707.6 333.1 L709.2 333.8 L710.9 334.6 L712.8 335.5 L716.5 337.2 L720.6 339.0 L725.0 341.0 L729.8 343.1 L734.7 345.2 L739.8 347.3 L744.9 349.4 L750.0 351.3 L755.9 353.4 L761.9 355.5 L768.1 357.6 L774.5 359.6 L780.9 361.6 L787.3 363.5 L793.7 365.4 L800.0 367.1 L806.2 368.7 L812.5 370.2 L818.7 371.6 L825.0 373.0 L831.2 374.3 L837.5 375.6 L843.8 377.0 L850.0 378.4 L856.3 379.9 L862.5 381.4 L868.7 383.0 L875.0 384.5 L881.2 386.1 L887.5 387.6 L893.7 389.1 L900.0 390.5 L906.2 391.9 L912.5 393.2 L918.7 394.5 L925.0 395.7 L931.2 396.9 L937.5 398.2 L943.7 399.3 L950.0 400.5 L956.2 401.6 L962.5 402.7 L968.7 403.7 L975.0 404.8 L981.3 405.8 L987.5 406.8 L993.8 407.9 L1000.0 409.0 L1006.3 410.2 L1012.5 411.5 L1018.7 412.8 L1025.0 414.2 L1031.2 415.5 L1037.5 416.8 L1043.7 417.9 L1050.0 419.0 L1056.2 419.9 L1062.5 420.7 L1068.7 421.3 L1075.0 422.0 L1081.3 422.6 L1087.5 423.3 L1093.8 424.0 L1100.0 424.9 L1106.3 425.9 L1112.5 427.0 L1118.8 428.1 L1125.1 429.2 L1131.3 430.5 L1137.5 431.8 L1143.8 433.1 L1150.0 434.6 L1156.4 436.2 L1163.1 437.9 L1169.8 439.8 L1176.5 441.7 L1183.0 443.6 L1189.1 445.5 L1194.9 447.3 L1200.0 449.0 L1202.9 450.0 L1205.6 451.0 L1208.2 451.9 L1210.5 452.9 L1212.9 453.8 L1215.2 454.7 L1217.5 455.7 L1219.9 456.6 L1222.4 457.5 L1224.9 458.4 L1227.3 459.2 L1229.8 460.0 L1232.3 460.9 L1234.7 461.8 L1237.2 462.9 L1239.6 464.0 L1242.1 465.3 L1244.7 466.8 L1247.2 468.4 L1249.7 470.0 L1252.2 471.7 L1254.6 473.4 L1257.1 475.1 L1259.6 476.8 L1262.1 478.5 L1264.6 480.2 L1267.1 481.9 L1269.6 483.6 L1272.1 485.4 L1274.6 487.2 L1277.1 489.1 L1279.5 491.0 L1282.0 493.1 L1284.5 495.2 L1287.0 497.4 L1289.5 499.6 L1291.9 501.9 L1294.4 504.3 L1296.8 506.7 L1299.2 509.3 L1301.9 512.3 L1304.6 515.6 L1307.2 518.9 L1309.9 522.3 L1312.5 525.8 L1315.1 529.3 L1317.6 532.8 L1320.2 536.3 L1322.8 539.8 L1325.4 543.5 L1328.1 547.2 L1330.7 551.0 L1333.3 554.6 L1335.7 558.0 L1338.0 561.2 L1340.0 564.0 L1341.1 565.5 L1342.1 566.7 L1343.0 567.9 L1343.9 569.0 L1344.7 570.1 L1345.6 571.3 L1346.5 572.6 L1347.5 574.0 L1349.0 576.4 L1350.6 579.1 L1352.3 582.0 L1354.0 585.0 L1355.7 588.1 L1357.4 591.2 L1359.2 594.2 L1360.9 597.2 L1362.6 600.1 L1364.4 603.1 L1366.1 606.0 L1367.9 609.0 L1369.6 611.9 L1371.4 614.8 L1373.2 617.8 L1375.0 620.7 L1376.8 623.6 L1378.7 626.6 L1380.6 629.5 L1382.5 632.4 L1384.4 635.3 L1386.3 638.3 L1388.2 641.2 L1390.1 644.1 L1392.0 647.0 L1393.9 649.9 L1395.8 652.8 L1397.7 655.7 L1399.6 658.6 L1401.6 661.6 L1403.6 664.5 L1405.8 667.6 L1408.5 671.4 L1411.4 675.4 L1414.4 679.6 L1417.5 683.8 L1420.5 687.9 L1423.5 691.7 L1426.4 695.1 L1429.0 698.0 L1430.5 699.5 L1431.8 700.8 L1433.1 701.9 L1434.3 702.9 L1435.6 703.9 L1436.9 704.9 L1438.4 706.0 L1440.0 707.1 L1442.6 708.9 L1445.4 710.8 L1448.5 712.7 L1451.7 714.7 L1455.1 716.6 L1458.4 718.4 L1461.7 720.2 L1465.0 721.7 L1468.1 723.0 L1471.2 724.3 L1474.3 725.5 L1477.4 726.6 L1480.5 727.6 L1483.7 728.5 L1486.8 729.3 L1490.0 730.0 L1493.1 730.5 L1496.2 730.9 L1499.3 731.1 L1502.5 731.3 L1505.6 731.4 L1508.7 731.5 L1511.9 731.6 L1515.0 731.8 L1518.1 732.0 L1521.1 732.2 L1524.1 732.5 L1527.2 732.7 L1530.2 732.9 L1533.4 733.0 L1536.6 733.1 L1540.0 733.2 L1544.5 733.2 L1549.1 733.1 L1554.0 732.9 L1558.9 732.6 L1564.0 732.3 L1569.0 732.1 L1574.0 731.9 L1579.0 731.8 L1584.0 731.8 L1588.9 731.8 L1593.9 731.9 L1598.9 732.0 L1603.9 732.1 L1608.9 732.2 L1613.9 732.2 L1618.9 732.2 L1623.9 732.1 L1628.8 732.0 L1633.8 731.8 L1638.8 731.6 L1643.7 731.3 L1648.7 731.1 L1653.7 730.9 L1658.7 730.8 L1663.8 730.7 L1668.9 730.6 L1674.0 730.6 L1679.1 730.5 L1684.2 730.5 L1689.4 730.4 L1694.7 730.4 L1700.0 730.3 L1705.9 730.2 L1711.9 730.1 L1717.9 729.9 L1724.0 729.8 L1730.2 729.6 L1736.5 729.4 L1743.0 729.3 L1749.6 729.1 L1757.7 728.9 L1766.2 728.7 L1774.8 728.4 L1783.7 728.2 L1792.6 727.9 L1801.5 727.7 L1810.4 727.5 L1819.2 727.4 L1827.9 727.3 L1836.6 727.3 L1845.3 727.3 L1854.0 727.3 L1862.7 727.3 L1871.4 727.4 L1880.1 727.4 L1888.8 727.4 L1897.5 727.4 L1906.2 727.4 L1914.9 727.4 L1923.6 727.3 L1932.3 727.3 L1941.0 727.3 L1949.7 727.4 L1958.4 727.4 L1967.1 727.5 L1975.8 727.5 L1984.5 727.6 L1993.2 727.7 L2001.9 727.8 L2010.6 728.0 L2019.3 728.1 L2028.0 728.4 L2036.7 728.7 L2045.4 729.1 L2054.1 729.5 L2062.8 730.0 L2071.4 730.4 L2080.1 730.9 L2088.8 731.4 L2097.5 731.9 L2106.2 732.4 L2114.9 732.9 L2123.6 733.4 L2132.3 733.9 L2141.0 734.4 L2149.7 735.0 L2158.4 735.5 L2167.1 736.1 L2175.8 736.7 L2184.5 737.3 L2193.2 737.9 L2201.9 738.6 L2210.6 739.3 L2219.3 739.9 L2228.0 740.6 L2236.7 741.3 L2245.4 742.0 L2254.1 742.8 L2262.8 743.5 L2271.5 744.3 L2280.2 745.1 L2288.9 745.8 L2297.6 746.5 L2306.3 747.2 L2315.1 747.8 L2324.0 748.5 L2332.9 749.1 L2341.8 749.7 L2350.6 750.2 L2359.3 750.8 L2367.7 751.3 L2375.9 751.7 L2382.6 752.0 L2389.0 752.3 L2395.3 752.6 L2401.5 752.8 L2407.6 753.1 L2413.7 753.3 L2419.8 753.5 L2426.0 753.8" fill="none" stroke="#36ac6b" stroke-width="11.5" stroke-linejoin="round" stroke-linecap="butt" clip-path="url(#pc)"/>
<line x1="345" y1="16.5" x2="345" y2="777" stroke="#000" stroke-width="6" stroke-dasharray="25.3 8.5 7.5 10"/>
<line x1="1077.5" y1="255.1" x2="1077.5" y2="1408" stroke="#000" stroke-width="5" stroke-dasharray="25.3 8.5 7.5 10"/>
<line x1="1616.5" y1="510.1" x2="1616.5" y2="1400" stroke="#000" stroke-width="5" stroke-dasharray="25.3 8.5 7.5 10"/>
<line x1="360" y1="726.5" x2="1062" y2="726.5" stroke="#000" stroke-width="4.8"/>
<path d="M342.0 724.3 L383.5 714.0 L389.0 714.0 L389.0 718.8 L381.7 724.1 L381.7 728.9 L389.0 734.2 L389.0 739.0 L383.5 739.0 L342.0 728.7 Z" fill="#000"/>
<path d="M1079.0 728.7 L1037.5 739.0 L1032.0 739.0 L1032.0 734.2 L1039.3 728.9 L1039.3 724.1 L1032.0 718.8 L1032.0 714.0 L1037.5 714.0 L1079.0 724.3 Z" fill="#000"/>
<line x1="1098" y1="1371" x2="1596" y2="1371" stroke="#000" stroke-width="4.8"/>
<path d="M1080.0 1368.8 L1121.5 1358.5 L1127.0 1358.5 L1127.0 1363.3 L1119.7 1368.6 L1119.7 1373.4 L1127.0 1378.7 L1127.0 1383.5 L1121.5 1383.5 L1080.0 1373.2 Z" fill="#000"/>
<path d="M1614.0 1373.2 L1572.5 1383.5 L1567.0 1383.5 L1567.0 1378.7 L1574.3 1373.4 L1574.3 1368.6 L1567.0 1363.3 L1567.0 1358.5 L1572.5 1358.5 L1614.0 1368.8 Z" fill="#000"/>
<line x1="2019.5" y1="615" x2="2019.5" y2="1231" stroke="#7b4a4b" stroke-width="5"/>
<path d="M2021.7 598.3 L2031.8 637.8 L2031.8 643.3 L2027.0 643.3 L2021.9 636.3 L2017.1 636.3 L2012.0 643.3 L2007.2 643.3 L2007.2 637.8 L2017.3 598.3 Z" fill="#7b4a4b"/>
<path d="M2017.3 1248.3 L2007.2 1208.8 L2007.2 1203.3 L2012.0 1203.3 L2017.1 1210.3 L2021.9 1210.3 L2027.0 1203.3 L2031.8 1203.3 L2031.8 1208.8 L2021.7 1248.3 Z" fill="#7b4a4b"/>
<rect x="264.5" y="12.5" width="2161.5" height="1652" fill="none" stroke="#000" stroke-width="9.2"/>
<line x1="231" y1="1664.5" x2="264.5" y2="1664.5" stroke="#000" stroke-width="9.7"/>
<line x1="248" y1="1597.1" x2="264.5" y2="1597.1" stroke="#000" stroke-width="9.7"/>
<line x1="231" y1="1529.6" x2="264.5" y2="1529.6" stroke="#000" stroke-width="9.7"/>
<line x1="248" y1="1462.2" x2="264.5" y2="1462.2" stroke="#000" stroke-width="9.7"/>
<line x1="231" y1="1394.8" x2="264.5" y2="1394.8" stroke="#000" stroke-width="9.7"/>
<line x1="248" y1="1327.3" x2="264.5" y2="1327.3" stroke="#000" stroke-width="9.7"/>
<line x1="231" y1="1259.9" x2="264.5" y2="1259.9" stroke="#000" stroke-width="9.7"/>
<line x1="248" y1="1192.4" x2="264.5" y2="1192.4" stroke="#000" stroke-width="9.7"/>
<line x1="231" y1="1125.0" x2="264.5" y2="1125.0" stroke="#000" stroke-width="9.7"/>
<line x1="248" y1="1057.6" x2="264.5" y2="1057.6" stroke="#000" stroke-width="9.7"/>
<line x1="231" y1="990.1" x2="264.5" y2="990.1" stroke="#000" stroke-width="9.7"/>
<line x1="248" y1="922.7" x2="264.5" y2="922.7" stroke="#000" stroke-width="9.7"/>
<line x1="231" y1="855.2" x2="264.5" y2="855.2" stroke="#000" stroke-width="9.7"/>
<line x1="248" y1="787.8" x2="264.5" y2="787.8" stroke="#000" stroke-width="9.7"/>
<line x1="231" y1="720.4" x2="264.5" y2="720.4" stroke="#000" stroke-width="9.7"/>
<line x1="248" y1="652.9" x2="264.5" y2="652.9" stroke="#000" stroke-width="9.7"/>
<line x1="231" y1="585.5" x2="264.5" y2="585.5" stroke="#000" stroke-width="9.7"/>
<line x1="248" y1="518.1" x2="264.5" y2="518.1" stroke="#000" stroke-width="9.7"/>
<line x1="231" y1="450.6" x2="264.5" y2="450.6" stroke="#000" stroke-width="9.7"/>
<line x1="248" y1="383.2" x2="264.5" y2="383.2" stroke="#000" stroke-width="9.7"/>
<line x1="231" y1="315.8" x2="264.5" y2="315.8" stroke="#000" stroke-width="9.7"/>
<line x1="248" y1="248.3" x2="264.5" y2="248.3" stroke="#000" stroke-width="9.7"/>
<line x1="231" y1="180.9" x2="264.5" y2="180.9" stroke="#000" stroke-width="9.7"/>
<line x1="248" y1="113.4" x2="264.5" y2="113.4" stroke="#000" stroke-width="9.7"/>
<line x1="231" y1="46.0" x2="264.5" y2="46.0" stroke="#000" stroke-width="9.7"/>
<line x1="264.5" y1="1664.5" x2="264.5" y2="1698" stroke="#000" stroke-width="9.7"/>
<line x1="399.6" y1="1664.5" x2="399.6" y2="1681" stroke="#000" stroke-width="9.7"/>
<line x1="534.7" y1="1664.5" x2="534.7" y2="1698" stroke="#000" stroke-width="9.7"/>
<line x1="669.8" y1="1664.5" x2="669.8" y2="1681" stroke="#000" stroke-width="9.7"/>
<line x1="804.9" y1="1664.5" x2="804.9" y2="1698" stroke="#000" stroke-width="9.7"/>
<line x1="940.0" y1="1664.5" x2="940.0" y2="1681" stroke="#000" stroke-width="9.7"/>
<line x1="1075.1" y1="1664.5" x2="1075.1" y2="1698" stroke="#000" stroke-width="9.7"/>
<line x1="1210.2" y1="1664.5" x2="1210.2" y2="1681" stroke="#000" stroke-width="9.7"/>
<line x1="1345.2" y1="1664.5" x2="1345.2" y2="1698" stroke="#000" stroke-width="9.7"/>
<line x1="1480.3" y1="1664.5" x2="1480.3" y2="1681" stroke="#000" stroke-width="9.7"/>
<line x1="1615.4" y1="1664.5" x2="1615.4" y2="1698" stroke="#000" stroke-width="9.7"/>
<line x1="1750.5" y1="1664.5" x2="1750.5" y2="1681" stroke="#000" stroke-width="9.7"/>
<line x1="1885.6" y1="1664.5" x2="1885.6" y2="1698" stroke="#000" stroke-width="9.7"/>
<line x1="2020.7" y1="1664.5" x2="2020.7" y2="1681" stroke="#000" stroke-width="9.7"/>
<line x1="2155.8" y1="1664.5" x2="2155.8" y2="1698" stroke="#000" stroke-width="9.7"/>
<line x1="2290.9" y1="1664.5" x2="2290.9" y2="1681" stroke="#000" stroke-width="9.7"/>
<line x1="2426.0" y1="1664.5" x2="2426.0" y2="1698" stroke="#000" stroke-width="9.7"/>
<text x="207" y="1688.5" font-family="'Liberation Serif','Times New Roman',serif" font-size="80" text-anchor="end">76</text>
<text x="207" y="1553.6" font-family="'Liberation Serif','Times New Roman',serif" font-size="80" text-anchor="end">78</text>
<text x="207" y="1418.8" font-family="'Liberation Serif','Times New Roman',serif" font-size="80" text-anchor="end">80</text>
<text x="207" y="1283.9" font-family="'Liberation Serif','Times New Roman',serif" font-size="80" text-anchor="end">82</text>
<text x="207" y="1149.0" font-family="'Liberation Serif','Times New Roman',serif" font-size="80" text-anchor="end">84</text>
<text x="207" y="1014.1" font-family="'Liberation Serif','Times New Roman',serif" font-size="80" text-anchor="end">86</text>
<text x="207" y="879.2" font-family="'Liberation Serif','Times New Roman',serif" font-size="80" text-anchor="end">88</text>
<text x="207" y="744.4" font-family="'Liberation Serif','Times New Roman',serif" font-size="80" text-anchor="end">90</text>
<text x="207" y="609.5" font-family="'Liberation Serif','Times New Roman',serif" font-size="80" text-anchor="end">92</text>
<text x="207" y="474.6" font-family="'Liberation Serif','Times New Roman',serif" font-size="80" text-anchor="end">94</text>
<text x="207" y="339.8" font-family="'Liberation Serif','Times New Roman',serif" font-size="80" text-anchor="end">96</text>
<text x="207" y="204.9" font-family="'Liberation Serif','Times New Roman',serif" font-size="80" text-anchor="end">98</text>
<text x="207" y="70.0" font-family="'Liberation Serif','Times New Roman',serif" font-size="80" text-anchor="end">100</text>
<text x="264.5" y="1782" font-family="'Liberation Serif','Times New Roman',serif" font-size="80" text-anchor="middle">0</text>
<text x="534.7" y="1782" font-family="'Liberation Serif','Times New Roman',serif" font-size="80" text-anchor="middle">100</text>
<text x="804.9" y="1782" font-family="'Liberation Serif','Times New Roman',serif" font-size="80" text-anchor="middle">200</text>
<text x="1075.1" y="1782" font-family="'Liberation Serif','Times New Roman',serif" font-size="80" text-anchor="middle">300</text>
<text x="1345.2" y="1782" font-family="'Liberation Serif','Times New Roman',serif" font-size="80" text-anchor="middle">400</text>
<text x="1615.4" y="1782" font-family="'Liberation Serif','Times New Roman',serif" font-size="80" text-anchor="middle">500</text>
<text x="1885.6" y="1782" font-family="'Liberation Serif','Times New Roman',serif" font-size="80" text-anchor="middle">600</text>
<text x="2155.8" y="1782" font-family="'Liberation Serif','Times New Roman',serif" font-size="80" text-anchor="middle">700</text>
<text x="2426.0" y="1782" font-family="'Liberation Serif','Times New Roman',serif" font-size="80" text-anchor="middle">800</text>
<text x="1333" y="1916" font-family="'Liberation Serif','Times New Roman',serif" font-size="97" text-anchor="middle">Temperature (°C)</text>
<text transform="translate(79 790.9) rotate(-90)" font-family="'Liberation Serif','Times New Roman',serif" font-size="97" text-anchor="middle">Weight (%)</text>
<text x="669" y="696.5" font-family="'Liberation Serif','Times New Roman',serif" font-size="72.5" text-anchor="middle">Stage 1</text>
<text x="1338.5" y="1338.5" font-family="'Liberation Serif','Times New Roman',serif" font-size="73" text-anchor="middle">Stage 2</text>
<text x="2060.5" y="985" font-family="'Liberation Serif','Times New Roman',serif" font-size="88" fill="#7b4a4b">9.76%</text>
<line x1="360" y1="1277.9" x2="505" y2="1277.9" stroke="#36ac6b" stroke-width="11.6"/>
<text x="533" y="1304.4" font-family="'Liberation Serif','Times New Roman',serif" font-size="64">PtSn-La3.2</text>
<line x1="360" y1="1367.5" x2="505" y2="1367.5" stroke="#1a6ede" stroke-width="11.6"/>
<text x="533" y="1393.9" font-family="'Liberation Serif','Times New Roman',serif" font-size="64">PtSn-La2.2</text>
<line x1="360" y1="1457.1" x2="505" y2="1457.1" stroke="#ee4040" stroke-width="11.6"/>
<text x="533" y="1483.4" font-family="'Liberation Serif','Times New Roman',serif" font-size="64">PtSn-La1.2</text>
<line x1="360" y1="1546.7" x2="505" y2="1546.7" stroke="#505050" stroke-width="11.6"/>
<text x="533" y="1572.9" font-family="'Liberation Serif','Times New Roman',serif" font-size="64">PtSn/Al<tspan font-size="44" dy="16">2</tspan><tspan dy="-16">O</tspan><tspan font-size="44" dy="16">3</tspan></text>
</svg>
</body></html>
